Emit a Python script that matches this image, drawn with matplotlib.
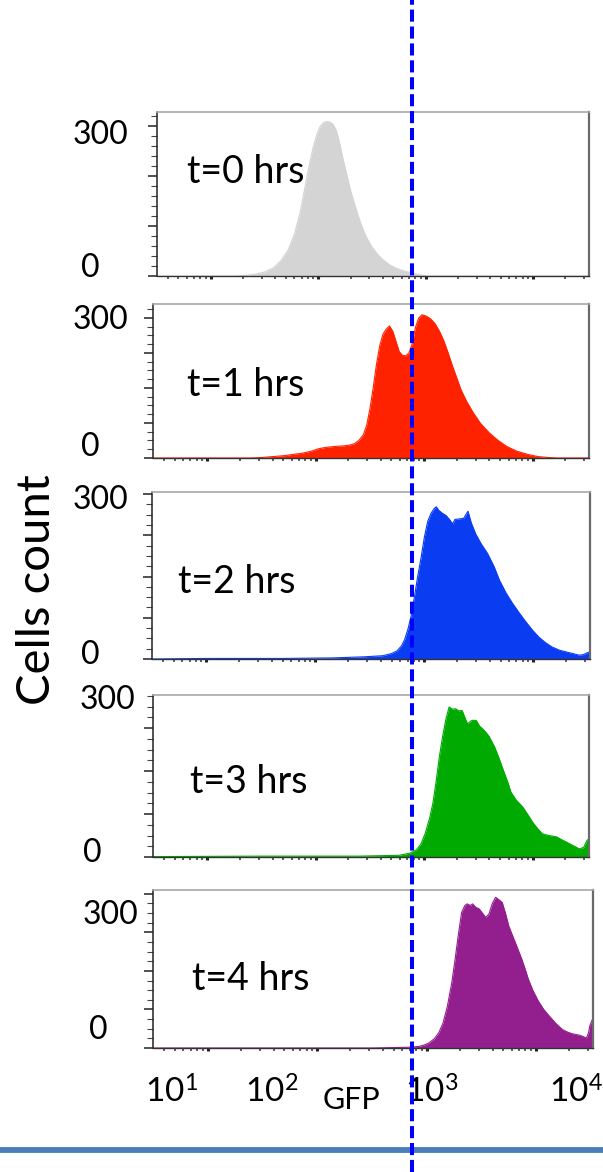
import numpy as np
import matplotlib
matplotlib.use("Agg")
import matplotlib.pyplot as plt
from matplotlib.ticker import MultipleLocator, LogLocator, NullFormatter
from matplotlib.lines import Line2D

plt.rcParams['font.family'] = ['Lato', 'DejaVu Sans']
plt.rcParams['mathtext.fontset'] = 'custom'
plt.rcParams['mathtext.rm'] = 'Lato'

# ---- histogram data: log10(GFP) bin positions and cell counts ----
t0_log = [0.50, 1.20, 1.30, 1.40, 1.50, 1.58, 1.65, 1.72, 1.78, 1.83, 1.87, 1.91,
          1.95, 1.99, 2.02, 2.05, 2.08, 2.11, 2.14, 2.17, 2.20, 2.23, 2.27, 2.30,
          2.33, 2.37, 2.41, 2.45, 2.50, 2.55, 2.60, 2.66, 2.72, 2.80, 2.88, 2.95,
          3.02, 4.52]
t0_cnt = [0, 0, 1, 3, 8, 16, 30, 52, 85, 125, 170, 215,
          255, 285, 300, 307, 309, 308, 303, 290, 265, 235, 199, 172,
          150, 122, 97, 77, 58, 44, 33, 23, 16, 10, 6, 2,
          0, 0]

t1_log = [0.50, 1.40, 1.50, 1.60, 1.71, 1.80, 1.87, 1.95, 2.03, 2.10, 2.19, 2.26,
          2.32, 2.36, 2.40, 2.44, 2.47, 2.50, 2.53, 2.56, 2.59, 2.62, 2.65, 2.68,
          2.71, 2.74, 2.77, 2.80, 2.83, 2.86, 2.89, 2.92, 2.95, 2.98, 3.02, 3.06,
          3.10, 3.14, 3.18, 3.22, 3.26, 3.30, 3.34, 3.39, 3.45, 3.52, 3.60, 3.68,
          3.76, 3.85, 3.95, 4.05, 4.15, 4.22, 4.52]
t1_cnt = [0, 0, 1, 3, 5, 8, 10, 14, 20, 23, 25, 26,
          28, 31, 38, 50, 70, 105, 150, 200, 240, 265, 276, 283,
          272, 250, 228, 220, 219, 225, 245, 280, 300, 307, 304, 298,
          288, 272, 252, 226, 198, 172, 146, 122, 98, 74, 54, 38,
          25, 15, 8, 3, 1, 0, 0]

t2_log = [0.50, 1.00, 1.70, 2.16, 2.45, 2.62, 2.70, 2.75, 2.79, 2.82, 2.85, 2.88,
          2.91, 2.94, 2.97, 3.00, 3.03, 3.06, 3.09, 3.11, 3.13, 3.16, 3.20, 3.23,
          3.26, 3.28, 3.32, 3.36, 3.40, 3.43, 3.47, 3.52, 3.58, 3.64, 3.69, 3.75,
          3.81, 3.87, 3.93, 3.99, 4.05, 4.11, 4.17, 4.24, 4.30, 4.36, 4.42, 4.46,
          4.49, 4.52]
t2_cnt = [0, 1, 1, 2, 4, 6, 10, 15, 24, 36, 55, 80,
          115, 152, 185, 222, 250, 265, 274, 277, 271, 266, 261, 254,
          246, 254, 255, 256, 269, 248, 228, 210, 192, 168, 143, 120,
          101, 84, 68, 53, 40, 30, 22, 16, 13, 10, 7, 8,
          11, 13]

t3_log = [0.50, 1.50, 2.40, 2.77, 2.87, 2.93, 2.97, 3.01, 3.05, 3.08, 3.11, 3.14,
          3.17, 3.20, 3.23, 3.26, 3.29, 3.32, 3.35, 3.38, 3.40, 3.44, 3.48, 3.51,
          3.54, 3.57, 3.60, 3.65, 3.69, 3.73, 3.77, 3.80, 3.85, 3.91, 3.96, 4.00,
          4.05, 4.09, 4.15, 4.22, 4.27, 4.31, 4.37, 4.43, 4.47, 4.50, 4.52]
t3_cnt = [1, 2, 2, 4, 9, 17, 30, 55, 90, 124, 175, 233,
          280, 320, 349, 344, 345, 340, 341, 322, 310, 318, 318, 305,
          298, 290, 280, 256, 230, 202, 175, 151, 132, 116, 97, 81,
          65, 54, 50, 47, 40, 35, 27, 19, 22, 38, 43]

t4_log = [0.50, 2.50, 2.84, 2.93, 2.98, 3.02, 3.07, 3.11, 3.15, 3.19, 3.23, 3.26,
          3.29, 3.32, 3.35, 3.37, 3.40, 3.42, 3.45, 3.48, 3.51, 3.54, 3.57, 3.60,
          3.63, 3.66, 3.69, 3.72, 3.75, 3.78, 3.81, 3.84, 3.87, 3.90, 3.93, 3.97,
          4.02, 4.07, 4.12, 4.18, 4.24, 4.29, 4.33, 4.40, 4.46, 4.48, 4.49, 4.52]
t4_cnt = [0, 0, 2, 4, 8, 13, 24, 39, 65, 109, 170, 230,
          295, 352, 370, 374, 370, 374, 365, 361, 350, 339, 348, 375,
          391, 385, 378, 350, 317, 295, 274, 252, 230, 205, 178, 150,
          122, 100, 83, 64, 48, 41, 37, 33, 26, 40, 57, 78]

panel_logs = [t0_log, t1_log, t2_log, t3_log, t4_log]
panel_counts = [t0_cnt, t1_cnt, t2_cnt, t3_cnt, t4_cnt]
panel_titles = ["t=0 hrs", "t=1 hrs", "t=2 hrs", "t=3 hrs", "t=4 hrs"]
panel_colors = ["#d4d4d4", "#ff2200", "#0a3cf2", "#00aa00", "#931f8f"]
y_max = [328, 330, 304, 377, 410]
y_step = [100, 75, 75, 100, 100]
y_minor = [20, 18.75, 18.75, 25, 25]

gfp_range = (10 ** 0.5, 10 ** 4.52)
gate_gfp = 10 ** 2.87
decade_labels = [r"$\mathregular{10^{1}}$", r"$\mathregular{10^{2}}$",
                 r"$\mathregular{10^{3}}$", r"$\mathregular{10^{4}}$"]

W, H = 603, 1172
fig = plt.figure(figsize=(W / 100, H / 100), dpi=100)

# panel frames in pixels: left, right, top, bottom
frames = [(157, 589, 112, 276), (153, 589, 304, 458), (152, 590, 492, 659),
          (153, 589, 695, 857), (153, 593, 890, 1048)]
title_pos = [(187, 172), (187, 385), (178, 582), (190, 782), (192, 979)]
lab300_pos = [(128, 135), (128, 320), (128, 500), (135, 700), (138, 915)]
lab0_pos = [(100, 268), (100, 447), (100, 655), (102, 853), (108, 1030)]

axes = []
for i in range(5):
    l, r, t, b = frames[i]
    ax = fig.add_axes([l / W, 1 - b / H, (r - l) / W, (b - t) / H])
    axes.append(ax)
    x = 10 ** np.asarray(panel_logs[i])
    y = np.asarray(panel_counts[i])
    ax.fill_between(x, y, 0, color=panel_colors[i], lw=0, zorder=2)
    ax.plot(x, y, color=panel_colors[i], lw=0.8, zorder=2)
    ax.set_xscale('log')
    ax.set_xlim(*gfp_range)
    ax.set_ylim(0, y_max[i])

    ax.xaxis.set_major_locator(LogLocator(base=10, numticks=10))
    ax.xaxis.set_minor_locator(LogLocator(base=10, subs=np.arange(2, 10), numticks=20))
    ax.xaxis.set_major_formatter(NullFormatter())
    ax.xaxis.set_minor_formatter(NullFormatter())
    ax.tick_params(axis='x', which='major', direction='out', length=2.5, width=2.2,
                   color='#222222')
    ax.tick_params(axis='x', which='minor', direction='out', length=1.8, width=1.1,
                   color='#333333')

    ax.yaxis.set_major_locator(MultipleLocator(y_step[i]))
    ax.yaxis.set_minor_locator(MultipleLocator(y_minor[i]))
    ax.yaxis.set_major_formatter(NullFormatter())
    ax.tick_params(axis='y', which='major', direction='out', length=6.5, width=1.1,
                   color='#222222')
    ax.tick_params(axis='y', which='minor', direction='out', length=4, width=0.8,
                   color='#444444')

    ax.spines['left'].set_color('#222222')
    ax.spines['left'].set_linewidth(1.1)
    ax.spines['bottom'].set_color('#333333')
    ax.spines['bottom'].set_linewidth(1.0)
    ax.spines['top'].set_color('#a8a8a8')
    ax.spines['top'].set_linewidth(1.2)
    ax.spines['right'].set_color('#6a6a6a')
    ax.spines['right'].set_linewidth(1.6)
    ax.patch.set_alpha(0)

    tx, ty = title_pos[i]
    fig.text(tx / W, 1 - ty / H, panel_titles[i], fontsize=27, ha='left', va='center')
    px, py = lab300_pos[i]
    fig.text(px / W, 1 - py / H, "300", fontsize=23, ha='right', va='center')
    px, py = lab0_pos[i]
    fig.text(px / W, 1 - py / H, "0", fontsize=23, ha='right', va='center')

# decade labels under the bottom panel
label_x = [171, 272, 432, 576]
for lx, txt in zip(label_x, decade_labels):
    fig.text(lx / W, 1 - 1092 / H, txt, fontsize=24, ha='center', va='center')
fig.text(351 / W, 1 - 1100 / H, "GFP", fontsize=22, ha='center', va='center')
fig.text(37 / W, 1 - 590 / H, "Cells count", fontsize=34, ha='center', va='center',
         rotation=90)

# footer rule
fig.add_artist(Line2D([0, 1], [1 - 1150 / H] * 2, transform=fig.transFigure,
                      color='#4a7ebb', lw=4.2, solid_capstyle='butt', zorder=5))

# gate threshold line across all panels
fig.canvas.draw()
gx_disp = axes[-1].transData.transform((gate_gfp, 0))[0]
gx_fig = fig.transFigure.inverted().transform((gx_disp, 0))[0]
fig.add_artist(Line2D([gx_fig, gx_fig], [0, 1], transform=fig.transFigure,
                      color='#0000ff', lw=2.9, dashes=(3, 1.2), zorder=10))

fig.savefig("out.png", dpi=100)
